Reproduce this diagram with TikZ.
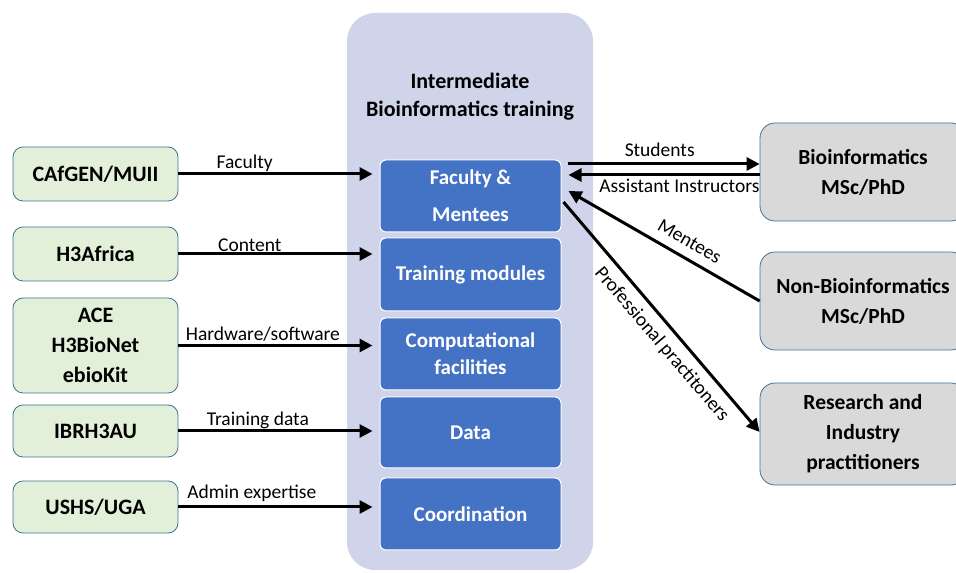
\documentclass[tikz,border=0pt]{standalone}
\usepackage{fontspec}
\setmainfont{Carlito}
\usetikzlibrary{arrows.meta}

\definecolor{panelbg}{RGB}{208,212,234}
\definecolor{modblue}{RGB}{68,114,196}
\definecolor{srcgreen}{RGB}{226,240,217}
\definecolor{outgray}{RGB}{217,217,217}
\definecolor{edgeblue}{RGB}{65,113,156}

\tikzset{
  panel/.style={fill=panelbg, rounded corners=28pt, minimum width=246pt, minimum height=557pt, inner sep=0pt},
  source/.style={draw=edgeblue, line width=0.8pt, fill=srcgreen, rounded corners=10pt, minimum width=165pt, inner sep=0pt, align=center, font=\fontsize{22}{30}\selectfont\bfseries},
  module/.style={draw=white, line width=1pt, fill=modblue, rounded corners=6pt, minimum width=181pt, inner sep=0pt, text=white, align=center, font=\fontsize{21}{27}\selectfont\bfseries},
  outcome/.style={draw=edgeblue, line width=0.8pt, fill=outgray, rounded corners=15pt, minimum width=206pt, minimum height=98pt, inner sep=0pt, align=center, font=\fontsize{21.5}{30}\selectfont\bfseries},
  flow/.style={line width=3pt, -{Triangle[length=13pt,width=13pt]}},
  lbl/.style={font=\fontsize{19.5}{22}\selectfont, inner sep=1pt}
}

\begin{document}
\begin{tikzpicture}[x=1pt, y=1pt]
  \path[use as bounding box, clip] (0,0) rectangle (956,573);

  % training block
  \node[panel] (panel) at (470,281.5) {};
  \node[align=center, font=\fontsize{22}{28}\selectfont\bfseries] (title) at (470,476) {Intermediate\\Bioinformatics training};

  \node[module, minimum height=72pt] (faculty) at (470.5,377) {Faculty \&\\[10pt]Mentees};
  \node[module, minimum height=73pt] (modules) at (470.5,298.5) {Training modules};
  \node[module, minimum height=72pt] (compfac) at (470.5,219) {Computational\\facilities};
  \node[module, minimum height=71pt] (data) at (470.5,140.5) {Data};
  \node[module, minimum height=72pt] (coord) at (470.5,59) {Coordination};

  % partners
  \node[source, minimum height=54pt] (cafgen) at (95.5,399) {CAfGEN/MUII};
  \node[source, minimum height=54pt] (h3africa) at (95.5,319) {H3Africa};
  \node[source, minimum height=95pt] (ace) at (95.5,227.5) {ACE\\H3BioNet\\ebioKit};
  \node[source, minimum height=52pt] (ibrh3au) at (95.5,142) {IBRH3AU};
  \node[source, minimum height=52pt] (ushs) at (95.5,66) {USHS/UGA};

  % trainees and practitioners
  \node[outcome] (biomsc) at (863,401) {Bioinformatics\\MSc/PhD};
  \node[outcome] (nonbio) at (863,272) {Non-Bioinformatics\\MSc/PhD};
  \node[outcome, minimum height=102pt] (research) at (863,139) {Research and\\Industry\\practitioners};

  \draw[flow, shorten >=7pt] (cafgen.east) -- (cafgen.east -| faculty.west) node[lbl, above, pos=0.33] {Faculty};
  \draw[flow, shorten >=7pt] (h3africa.east) -- (h3africa.east -| modules.west) node[lbl, above, pos=0.355] {Content};
  \draw[flow, shorten >=7pt] (ace.east) -- (ace.east -| compfac.west) node[lbl, above=2pt, pos=0.42] {Hardware/software};
  \draw[flow, shorten >=7pt] (ibrh3au.east) -- (ibrh3au.east -| data.west) node[lbl, above, pos=0.395] {Training data};
  \draw[flow, shorten >=7pt] (ushs.east) -- (ushs.east -| coord.west) node[lbl, above=3pt, pos=0.365] {Admin expertise};

  \draw[flow] ([xshift=6pt,yshift=32pt]faculty.east) -- ([yshift=8pt]biomsc.west) node[lbl, above=5pt, pos=0.48] {Students};
  \draw[flow] ([yshift=-3pt]biomsc.west) -- ([xshift=7pt,yshift=21pt]faculty.east) node[lbl, below=2pt, pos=0.42] {Assistant Instructors};
  \draw[flow] (nonbio.west) -- ([xshift=7pt,yshift=5pt]faculty.east) node[lbl, sloped, above=8pt, pos=0.41] {Mentees};
  \draw[flow] ([xshift=2pt,yshift=-6pt]faculty.east) -- ([yshift=2pt]research.west) node[lbl, sloped, below=7pt, pos=0.57] {Professional practitoners};
\end{tikzpicture}
\end{document}
